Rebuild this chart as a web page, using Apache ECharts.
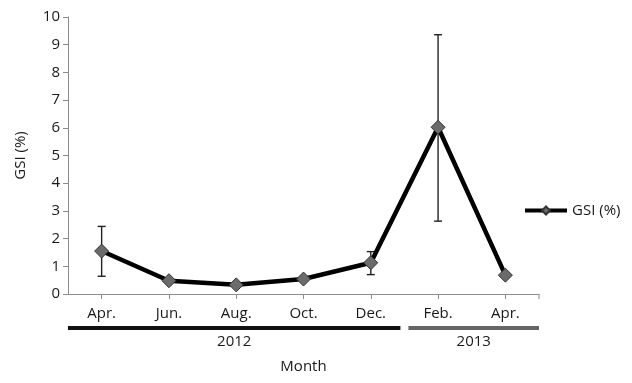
<!DOCTYPE html>
<html>
<head>
<meta charset="utf-8">
<script src="https://cdn.jsdelivr.net/npm/echarts@6/dist/echarts.min.js"></script>
<style>
html,body{margin:0;padding:0;background:#fff;}
#chart{width:632px;height:383px;}
</style>
</head>
<body>
<div id="chart"></div>
<script>
var months = ['Apr.', 'Jun.', 'Aug.', 'Oct.', 'Dec.', 'Feb.', 'Apr.'];
var gsi = [1.55, 0.48, 0.33, 0.54, 1.13, 6.02, 0.68];
var errLow = [0.64, 0.48, 0.33, 0.54, 0.70, 2.63, 0.68];
var errHigh = [2.44, 0.48, 0.33, 0.54, 1.53, 9.36, 0.68];
var yTicks = [0, 1, 2, 3, 4, 5, 6, 7, 8, 9, 10];
var years = ['2012', '2013'];
var yearStart = [0, 5];   // first category index of each year
var yearEnd = [4, 6];     // last category index of each year
var yearColors = ['#111111', '#666666'];

var FONT = 'Open Sans';
var FS = 15;
var TXT = '#1a1a1a';

var chart = echarts.init(document.getElementById('chart'));

var errData = gsi.map(function (v, i) {
  return [i, errLow[i], errHigh[i]];
}).filter(function (d) { return d[2] - d[1] > 0.05; });

chart.setOption({
  animation: false,
  grid: { left: 68, right: 93, top: 17, bottom: 89 },
  legend: {
    show: true,
    left: 518,
    top: 198,
    itemWidth: 42,
    itemHeight: 10,
    itemGap: 4,
    lineStyle: { width: 4, color: '#000' },
    textStyle: { fontFamily: FONT, fontSize: FS, color: TXT },
    data: ['GSI (%)']
  },
  xAxis: {
    type: 'category',
    data: months,
    boundaryGap: true,
    name: 'Month',
    nameLocation: 'middle',
    nameGap: 65,
    nameTextStyle: { fontFamily: FONT, fontSize: FS, color: TXT },
    axisLine: { lineStyle: { color: '#8c8c8c', width: 1 } },
    axisTick: { show: true, alignWithLabel: true, length: 5, lineStyle: { color: '#8c8c8c' } },
    axisLabel: { fontFamily: FONT, fontSize: FS, color: TXT, margin: 12 },
    splitLine: { show: false }
  },
  yAxis: {
    type: 'value',
    min: yTicks[0],
    max: yTicks[yTicks.length - 1],
    interval: 1,
    name: 'GSI (%)',
    nameLocation: 'middle',
    nameGap: 40,
    nameTextStyle: { fontFamily: FONT, fontSize: FS, color: TXT },
    axisLine: { show: true, lineStyle: { color: '#8c8c8c', width: 1 } },
    axisTick: { show: true, length: 5, lineStyle: { color: '#8c8c8c' } },
    axisLabel: { fontFamily: FONT, fontSize: FS, color: TXT, margin: 8 },
    splitLine: { show: false }
  },
  series: [
    {
      type: 'custom',
      name: 'err',
      z: 1,
      data: errData,
      renderItem: function (params, api) {
        var x = api.value(0);
        var lo = api.coord([x, api.value(1)]);
        var hi = api.coord([x, api.value(2)]);
        var w = 4;
        var st = { stroke: '#222', lineWidth: 1.4 };
        return {
          type: 'group',
          children: [
            { type: 'line', shape: { x1: lo[0], y1: lo[1], x2: hi[0], y2: hi[1] }, style: st },
            { type: 'line', shape: { x1: lo[0] - w, y1: lo[1], x2: lo[0] + w, y2: lo[1] }, style: st },
            { type: 'line', shape: { x1: hi[0] - w, y1: hi[1], x2: hi[0] + w, y2: hi[1] }, style: st }
          ]
        };
      }
    },
    {
      type: 'line',
      name: 'GSI (%)',
      z: 2,
      data: gsi,
      symbol: 'diamond',
      symbolSize: 14,
      lineStyle: { color: '#000', width: 4.5 },
      itemStyle: { color: '#6b6b6b', borderColor: '#333', borderWidth: 1 }
    }
  ]
});

// Year bands below the category axis, placed through the axis scale
function drawYears() {
  var graphics = [];
  var c0 = chart.convertToPixel({ xAxisIndex: 0 }, 0);
  var half = (chart.convertToPixel({ xAxisIndex: 0 }, 1) - c0) / 2;
  var yAxisPix = chart.convertToPixel({ yAxisIndex: 0 }, 0);
  var lastEdge = chart.convertToPixel({ xAxisIndex: 0 }, months.length - 1) + half;
  graphics.push({
    type: 'line',
    shape: { x1: lastEdge, y1: yAxisPix, x2: lastEdge, y2: yAxisPix + 5 },
    style: { stroke: '#8c8c8c', lineWidth: 1 },
    silent: true
  });
  for (var k = 0; k < years.length; k++) {
    var x0 = chart.convertToPixel({ xAxisIndex: 0 }, yearStart[k]) - half;
    var x1 = chart.convertToPixel({ xAxisIndex: 0 }, yearEnd[k]) + half;
    var gap = 4;
    var a = k === 0 ? x0 : x0 + gap;
    var b = k === years.length - 1 ? x1 : x1 - gap;
    graphics.push({
      type: 'rect',
      shape: { x: a, y: yAxisPix + 32, width: b - a, height: 4 },
      style: { fill: yearColors[k] },
      silent: true
    });
    graphics.push({
      type: 'text',
      x: (a + b) / 2,
      y: yAxisPix + 48,
      style: {
        text: years[k], fontFamily: FONT, fontSize: FS, fill: TXT,
        align: 'center', verticalAlign: 'middle'
      },
      silent: true
    });
  }
  chart.setOption({ graphic: graphics });
}
drawYears();
</script>
</body>
</html>
